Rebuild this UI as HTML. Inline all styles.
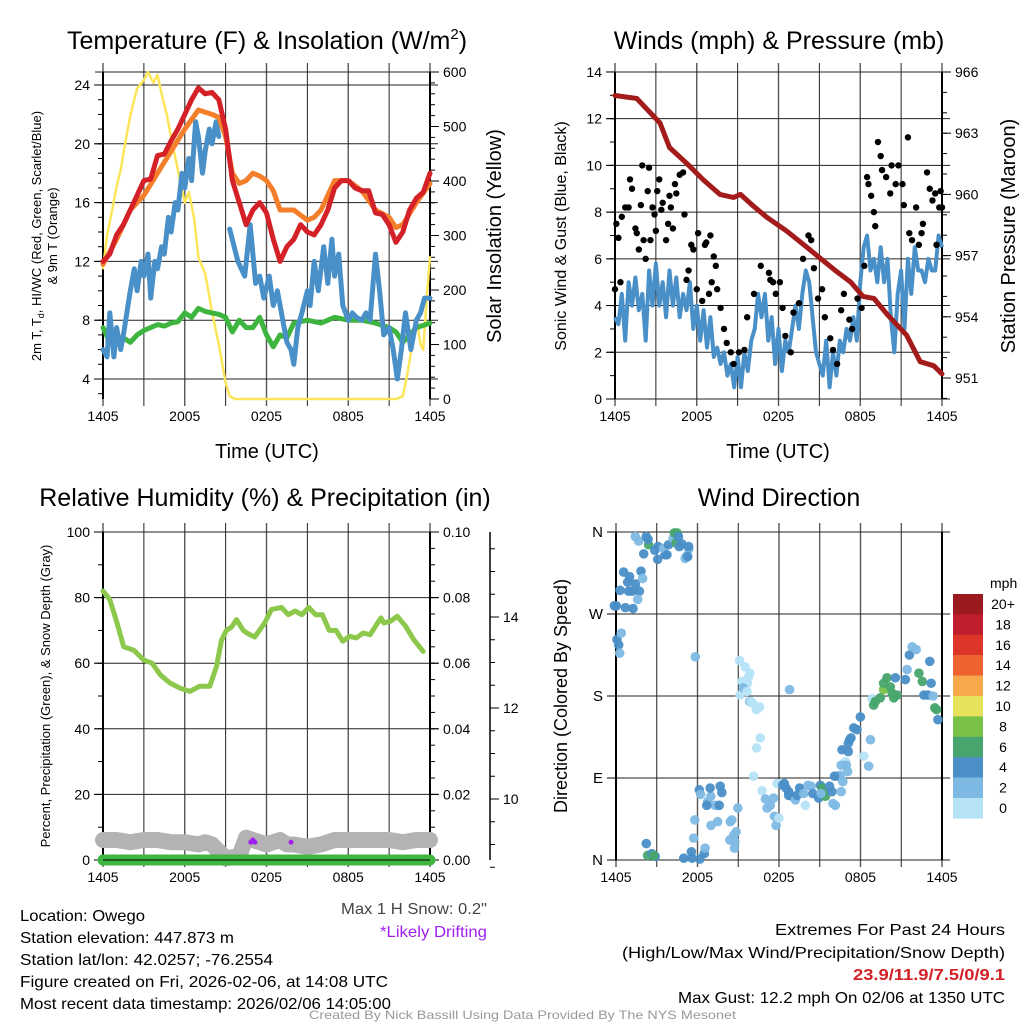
<!DOCTYPE html>
<html><head><meta charset="utf-8"><style>
html,body{margin:0;padding:0;background:#fff;}
svg{display:block;font-family:"Liberation Sans",sans-serif;}
</style></head><body>
<svg id="chart" xmlns="http://www.w3.org/2000/svg" width="1024" height="1024" viewBox="0 0 1024 1024">
<rect width="1024" height="1024" fill="#fff"/>
<g id="g"></g>
<text x="267" y="49" font-size="25" text-anchor="middle">Temperature (F) &amp; Insolation (W/m<tspan font-size="15" dy="-10">2</tspan><tspan dy="10">)</tspan></text>
<text x="779" y="49" font-size="25" text-anchor="middle">Winds (mph) &amp; Pressure (mb)</text>
<text x="265" y="506" font-size="25" text-anchor="middle">Relative Humidity (%) &amp; Precipitation (in)</text>
<text x="779" y="506" font-size="25" text-anchor="middle">Wind Direction</text>
<text x="267" y="458" font-size="20" text-anchor="middle">Time (UTC)</text>
<text x="778" y="458" font-size="20" text-anchor="middle">Time (UTC)</text>
<text transform="translate(41,236) rotate(-90)" font-size="13" text-anchor="middle">2m T, T<tspan font-size="9" dy="3">d</tspan><tspan dy="-3">, HI/WC (Red, Green, Scarlet/Blue)</tspan></text>
<text transform="translate(57,236) rotate(-90)" font-size="13" text-anchor="middle">&amp; 9m T (Orange)</text>
<text transform="translate(501,236) rotate(-90)" font-size="20" text-anchor="middle">Solar Insolation (Yellow)</text>
<text transform="translate(566,236) rotate(-90)" font-size="16" text-anchor="middle">Sonic Wind &amp; Gust (Blue, Black)</text>
<text transform="translate(1015,236) rotate(-90)" font-size="20" text-anchor="middle">Station Pressure (Maroon)</text>
<text transform="translate(50,696) rotate(-90)" font-size="13" text-anchor="middle">Percent, Precipitation (Green), &amp; Snow Depth (Gray)</text>
<text transform="translate(567,696) rotate(-90)" font-size="18" text-anchor="middle">Direction (Colored By Speed)</text>
<text x="990" y="588" font-size="14">mph</text>
<g font-size="16">
<text x="20" y="921" textLength="125" lengthAdjust="spacingAndGlyphs">Location: Owego</text>
<text x="20" y="943" textLength="214" lengthAdjust="spacingAndGlyphs">Station elevation: 447.873 m</text>
<text x="20" y="965" textLength="253" lengthAdjust="spacingAndGlyphs">Station lat/lon: 42.0257; -76.2554</text>
<text x="20" y="987" textLength="368" lengthAdjust="spacingAndGlyphs">Figure created on Fri, 2026-02-06, at 14:08 UTC</text>
<text x="20" y="1009" textLength="371" lengthAdjust="spacingAndGlyphs">Most recent data timestamp: 2026/02/06 14:05:00</text>
<text x="341" y="914" fill="#444" textLength="146" lengthAdjust="spacingAndGlyphs">Max 1 H Snow: 0.2"</text>
<text x="380" y="937" fill="#a020f0" textLength="107" lengthAdjust="spacingAndGlyphs">*Likely Drifting</text>
<text x="775" y="935" textLength="230" lengthAdjust="spacingAndGlyphs">Extremes For Past 24 Hours</text>
<text x="622" y="958" textLength="383" lengthAdjust="spacingAndGlyphs">(High/Low/Max Wind/Precipitation/Snow Depth)</text>
<text x="853" y="980" fill="#d42027" font-weight="bold" textLength="152" lengthAdjust="spacingAndGlyphs">23.9/11.9/7.5/0/9.1</text>
<text x="678" y="1003" textLength="327" lengthAdjust="spacingAndGlyphs">Max Gust: 12.2 mph On 02/06 at 1350 UTC</text>
</g>
<text x="309" y="1019" font-size="12" fill="#999" textLength="427" lengthAdjust="spacingAndGlyphs">Created By Nick Bassill Using Data Provided By The NYS Mesonet</text>
</svg>
<script>
const xTickLabels=["1405","2005","0205","0805","1405"];
// temperature panel
const redT=[0,0.5,1,1.5,2,2.5,3,3.5,4,4.5,5,5.5,6,6.5,7,7.5,8,8.5,9,9.5,10,10.5,11,11.5,12,12.5,13,13.5,14,14.5,15,15.5,16,16.5,17,17.5,18,18.5,19,19.5,20,20.5,21,21.5,22,22.5,23,23.5,24];
const redV=[12,12.5,13.8,14.5,15.5,16.5,17.5,17.6,19.2,19.3,20.2,21,22,23,23.8,23.4,23.5,23,21,17.5,16,14.5,15.5,16,15.3,13.5,12,13,13.5,14.5,14,13.8,14.5,15.5,17,17.5,17.5,17,16.8,16.8,15.3,15.2,14.5,13.3,14,15.5,16.3,16.7,18];
const orangeT=[0,1,2,3,4,5,6,7,8,8.5,9,9.5,10,10.5,11,11.5,12,12.5,13,14,15,15.5,16,16.5,17,18,19,20,21,21.5,22,23,24];
const orangeV=[11.8,13.5,15.5,16.5,18,19.5,21,22.3,22,21.8,20.5,18,17.3,17.5,18,17.8,17.5,16.8,15.5,15.5,14.8,15,15.5,16.5,17.5,17.5,16.8,15.5,15,14.3,14.5,16,17.3];
const blueT=[0,0.3,0.5,0.8,1,1.3,1.5,2,2.3,2.5,2.8,3,3.3,3.5,3.8,4,4.3,4.5,4.8,5,5.3,5.5,5.8,6,6.3,6.5,6.8,7,7.3,7.5,7.8,8,8.3,8.5];
const blueV=[6,5.5,8.5,5.5,7.5,6,7,10,11.5,10,12,11,12.5,9.5,12,11.5,13,12.5,15,14,16,15.5,18,17,19,17.5,21.5,20.5,18,19.5,21,20,21.5,20.5];
const blue2T=[9.3,9.9,10.4,10.8,11.2,11.5,11.8,12.2,12.5,12.8,13.2,13.5,13.8,14,14.3,14.6,15,15.2,15.5,15.8,16.2,16.5,16.8,17,17.3,17.6,18,18.3,18.6,19,19.3,19.6,20,20.3,20.6,21,21.3,21.6,21.9,22.2,22.6,23,23.3,23.6,24];
const blue2V=[14.2,12,11,14.5,10.5,11,9.5,11,9,10,8,6.5,6,5,7.5,8.5,10,9,12,10,13,10.5,13.5,11,12.5,9,8,8.5,8.2,8,8.5,8,12.5,10,7,7.5,6,4,6,8.5,6,8,8.5,9.5,9.5];
const greenT=[0,0.5,1,1.5,2,2.5,3,3.5,4,4.5,5,5.5,6,6.5,7,7.5,8,8.5,9,9.5,10,10.5,11,11.5,12,12.5,13,13.5,14,15,16,17,18,19,20,21,21.5,22,22.5,23,24];
const greenV=[7.5,6.5,6.5,6.8,6.5,7,7.3,7.5,7.7,7.6,7.8,7.9,8.5,8.2,8.8,8.6,8.5,8.4,8.2,7.2,8,7.5,7.5,8.2,7,6.2,7,6.8,7.8,8,7.8,8.2,8,8,7.8,7.5,7.2,6.5,7,7.5,7.8];
const solarT=[0,0.3,0.7,1,1.3,1.7,2,2.5,3,3.3,3.7,4,4.3,4.7,5,5.5,6,6.3,6.7,7,7.5,8,8.5,9,9.3,9.7,21.5,22,22.3,22.7,23,23.3,23.5,23.8,24];
const solarV=[240,300,350,390,420,480,520,570,585,600,580,595,560,520,480,420,360,380,330,260,230,160,100,30,5,0,0,5,40,100,150,100,90,200,260];
// wind panel
const windV=[3.5,3.2,4.5,2.5,5,4,5.2,3.8,4.5,2.5,5.5,4,5.8,4,5,3.5,5.5,4,5.2,3.5,4.5,3.8,5,3,4,2.5,3.8,2.2,3.5,1.8,2.2,1.5,2,1,1.5,0.5,1.8,0.5,2,1.2,2.5,3,4.5,3.5,4.5,2.5,3.5,1.5,3,1.2,2.5,2,3,4,3,4.5,5.5,5,3.5,2,1.5,1,2.5,0.5,2,1,2.5,2,3,2.5,3.5,2.5,5,6.5,7,5.5,6,5,6.5,5,6,3.5,2,4.5,5.5,3,6,4.5,6.5,5.5,5.5,5,6,5.5,5.5,7,6.5];
const gustT=[0,0.1,0.25,0.4,0.5,0.75,1,1.1,1.25,1.5,1.6,1.75,1.9,2,2.1,2.25,2.4,2.5,2.6,2.75,2.9,3,3.1,3.25,3.4,3.5,3.75,3.9,4,4.1,4.25,4.4,4.5,4.75,5,5.1,5.25,5.4,5.6,5.75,6,6.1,6.4,6.6,6.7,6.9,7,7.1,7.25,7.4,7.5,7.75,8,8.2,8.5,8.7,9.1,9.5,9.7,10.2,10.7,11.3,11.4,11.6,11.8,12.1,12.3,12.5,12.9,13.1,13.5,13.8,14.2,14.4,14.6,14.9,15.2,15.4,15.8,16,16.3,16.6,16.8,17.2,17.4,17.8,18.1,18.3,18.5,18.6,18.8,19,19.1,19.3,19.5,19.6,19.9,20.2,20.3,20.6,20.8,21.1,21.2,21.5,21.6,21.8,22.1,22.3,22.5,22.6,22.9,23.1,23.3,23.5,23.6,23.8,23.9,24];
const gustV=[4.7,7.5,6.9,5,7.8,8.2,8.2,9.4,9,7.3,7.1,6.4,8.3,10,6.8,6,8.9,9.9,6.8,8.2,7.9,7.2,8.9,9.4,8.1,8.4,6.8,7.5,8.7,8.2,7.3,9.2,8.8,9.6,9.7,7.9,5.1,5.5,6.6,6.4,4.7,7.1,4.2,6.6,6.7,4.5,7,5,6.1,5.7,4.7,3.9,3,2.4,2,1.5,2,2.1,3.5,4.5,5.7,5.4,5.1,5,4.5,5,3.9,2.7,2,3.7,4.1,6,7,6.8,5.6,4.3,4.7,3.5,2.6,2.1,1.5,3.8,4.5,3.4,3,4.3,3.9,5.7,9.5,9.2,8.7,8,7.4,11,10.4,9.8,9.5,8.8,10,9.2,10,9.2,8.3,11.2,7.1,6.8,8.2,6.6,7.1,7.5,9.7,9,8.5,8.8,6.6,8.2,8.9,8.2,7.2,7.4,8.6,8.7,10.1,12.2];
const presT=[0,1.6,3.3,4,5.3,6.5,7.7,8.7,9.2,10.2,11.1,12.6,14.1,15,16.3,17.3,18.2,19,20,21.4,22.4,23.4,24];
const presV=[964.85,964.7,963.5,962.3,961.5,960.7,960,959.85,960,959.4,958.9,958.2,957.4,956.9,956.2,955.7,955,954.9,954.1,953.1,951.8,951.6,951.2];
// RH panel
const rhT=[0,0.5,1.03,1.52,2.25,2.98,3.6,4.2,4.9,5.65,6.38,7.1,7.84,8.33,8.7,9.06,9.43,9.8,10.3,10.65,11.14,11.87,12.37,13.1,13.6,14.1,14.6,15.1,15.6,16.1,16.6,17.1,17.6,18.1,18.6,19.1,19.6,20.4,20.6,21.1,21.6,22.2,22.8,23.5];
const rhV=[82,79.4,72.3,65,64,61,60,56.5,54,52.4,51.4,53,53,59,67,70,71,73.3,70,69,68,72.3,76.4,77,74.8,75.9,74.8,77,74.8,74.8,70,70,66.7,68.2,67.7,69.2,68.7,73.8,72.3,72.8,74.3,71.3,67.2,63.6];
const precipT=[0,24];
const precipV=[0,0];
const snowT=[0,1,2,3,4,5,6,7,7.5,8,8.5,9,9.5,10,10.5,11,11.5,12,12.5,13,13.5,14,15,16,17,18,19,20,21,22,23,24];
const snowV=[9.1,9.1,9.05,9.1,9.1,9.05,9.05,9.0,9.05,9.0,8.85,8.7,8.72,8.75,9.15,9.1,9.05,9.0,9.05,9.1,9.0,9.0,8.95,9.0,9.1,9.1,9.1,9.1,9.1,9.05,9.1,9.1];
const driftT=[10.85,11.0,11.15,13.8];
const driftV=[9.05,9.1,9.05,9.05];
// direction panel
const dirT=[-0.12,0.02,0.3,0.56,0.86,1.0,0.93,1.18,1.43,1.72,1.6,0.69,1.25,1.84,1.96,2.04,1.42,1.67,2.23,2.4,2.36,2.85,3.07,3.1,3.61,3.5,3.75,3.87,4.21,4.29,4.5,4.42,4.6,4.66,4.85,5.16,5.09,5.35,5.28,5.35,0.07,0.2,0.27,0.39,5.84,2.23,2.33,2.64,2.89,2.77,4.99,5.6,5.55,6.17,5.72,5.8,6.5,6.56,6.13,6.75,6.98,6.23,7.67,6.93,7.79,7.3,7.48,7.6,6.68,6.99,8.97,8.84,8.53,8.41,8.66,8.38,8.72,8.75,9.1,9.5,9.76,9.28,9.67,9.85,9.13,9.36,12.78,9.65,9.84,9.94,10.06,10.33,10.57,10.62,10.35,10.13,11.86,10.75,11.0,11.12,11.36,11.6,11.66,11.78,12.0,12.27,12.39,12.52,12.71,12.71,12.96,13.21,13.33,13.52,13.82,13.94,14.13,14.37,14.49,14.92,15.05,15.17,15.29,15.42,15.72,15.9,15.97,16.15,16.33,16.52,16.58,16.7,16.9,17.05,17.1,17.2,16.96,17.1,15.09,16.09,16.58,16.64,17.3,17.5,17.74,17.99,18.24,18.6,18.73,18.85,18.97,19.09,19.46,19.7,19.7,19.95,20.2,20.33,20.45,20.69,20.57,21.3,21.43,21.6,21.8,22.1,22.3,22.55,22.67,22.97,23.1,23.2,23.35,23.47,23.6,23.7];
const dirV=[279,279,296,316,305,311,295,295,303,295,286,277,276,317,309,336,355,350,355,346,352,340,330,344,335,342,335,346,353,359,359,348,355,344,347,333,331,341,333,344,242,236,227,249,223,18,5,7,4,5,2,2,9,1,24,44,7,13,77,64,70,72,81,79,74,60,42,60,60,38,57,31,44,42,27,22,13,20,219,212,201,196,194,205,181,189,187,185,174,174,172,165,168,134,123,92,84,76,67,57,60,68,48,38,46,82,84,79,75,71,70,66,71,79,73,60,82,81,73,68,82,79,75,70,81,75,62,60,92,93,75,86,108,97,128,132,104,119,73,92,104,121,134,145,143,157,114,103,132,177,170,174,178,187,194,200,190,183,178,181,200,198,209,225,234,231,205,196,181,181,218,194,180,167,165,154,141,150,157,165,165,173,190,185,181,174,167];
const dirS=[5,5,5,5,5,5,5,5,5,5,3,5,5,5,3,5,3,3,5,7,5,5,5,5,5,3,5,5,3,7,7,7,5,5,5,3,3,3,5,5,5,5,3,3,3,5,7,5,5,7,5,5,5,5,3,3,5,3,5,3,3,3,5,5,5,3,3,5,5,3,3,3,3,3,3,3,3,3,1,1,1,1,1,1,1,3,3,1,3,1,1,1,1,1,1,1,1,1,3,3,3,3,3,3,1,5,5,5,5,5,5,3,5,5,3,1,3,3,5,5,5,7,7,7,5,5,3,3,5,3,3,3,1,3,5,5,3,5,3,5,3,5,5,5,5,5,1,3,3,1,7,7,7,9,7,7,7,7,7,7,5,5,3,5,3,3,7,7,5,5,5,5,3,7,7,5,5,7,7,7,5,5,7,7,7];
const cbarLabels=["20+","18","16","14","12","10","8","6","4","2","0"];
const cbarColors=["#9a1a1d","#bf1e2d","#dd3529","#ee6231","#f6a84a","#e7e25b","#7ac14a","#47a56d","#4a8fc7","#7eb9e4","#b6e3f8"];

const NS="http://www.w3.org/2000/svg";
const G=document.getElementById('g');
function mk(tag,attrs,parent){const e=document.createElementNS(NS,tag);for(const k in attrs)e.setAttribute(k,attrs[k]);(parent||G).appendChild(e);return e;}
function panelX(x0,x1){return t=>x0+t/24*(x1-x0);}
function pathD(ts,vs,X,Y){return ts.map((t,i)=>(i?'L':'M')+X(t).toFixed(1)+','+Y(vs[i]).toFixed(1)).join('');}

function frame(name,x0,x1,y0,y1,hLines){
  const g=mk('g',{});
  
  
  for(let k=0;k<=8;k++){const x=x0+k*(x1-x0)/8;
    const l=mk('line',{x1:x,x2:x,y1:y0-9,y2:y1+7,stroke:(k%2?'#222':'#555'),'stroke-width':(k%2?1:1.4)},g);
    }
  hLines.forEach(y=>{const l=mk('line',{x1:x0-8,x2:x1+8,y1:y,y2:y,stroke:'#222','stroke-width':1},g);
    });
  mk('line',{x1:x0,x2:x0,y1:y0,y2:y1,stroke:'#000','stroke-width':2},g);
  mk('line',{x1:x1,x2:x1,y1:y0,y2:y1,stroke:'#000','stroke-width':2},g);
  xTickLabels.forEach((s,i)=>{const tx=mk('text',{x:x0+i*(x1-x0)/4,y:y1+22,'font-size':14,'text-anchor':'middle'},g);tx.textContent=s;
    });
}
function yTicks(x,side,vals,Y,labels,minor,size){
  const g=mk('g',{});
  
  
  minor.forEach(v=>mk('line',{x1:x,x2:x+side*5,y1:Y(v),y2:Y(v),stroke:'#000','stroke-width':1},g));
  vals.forEach((v,i)=>{mk('line',{x1:x,x2:x+side*9,y1:Y(v),y2:Y(v),stroke:'#000','stroke-width':1},g);
    const t=mk('text',{x:x+side*13,y:Y(v)+5,'font-size':size||14,'text-anchor':side<0?'end':'start'},g);t.textContent=labels[i];
    });
}
function range(a,b,s){const r=[];for(let v=a;v<=b+1e-9;v+=s)r.push(+v.toFixed(4));return r;}

// ---- Temperature panel
{
  const X=panelX(103,430), YT=v=>379-(v-4)*14.7, YI=v=>399-v*327/600;
  const maj=[4,8,12,16,20,24];
  frame('temp',103,430,72,399,[72].concat(maj.map(YT)));
  yTicks(103,-1,maj,YT,maj.map(String),range(3,24,1));
  yTicks(430,1,[0,100,200,300,400,500,600],YI,["0","100","200","300","400","500","600"],range(0,600,20));
  const s=[[solarT,solarV,YI,'#fde55a',2.5,'solar-line'],[greenT,greenV,YT,'#3db53f',5,'dewpoint-line'],[blueT,blueV,YT,'#4a90c8',5,'windchill-line'],[blue2T,blue2V,YT,'#4a90c8',5,'windchill-line-2'],[orangeT,orangeV,YT,'#f47f2b',5,'temp-9m-line'],[redT,redV,YT,'#d42027',5,'temp-2m-line']];
  s.forEach(([ts,vs,Y,c,w,n])=>{const p=mk('path',{d:pathD(ts,vs,X,Y),fill:'none',stroke:c,'stroke-width':w,'stroke-linejoin':'round','stroke-linecap':'round'});
    });
}
// ---- Wind panel
{
  const X=panelX(615,942), YW=v=>399-v*23.36, YP=p=>378-(p-951)*20.4;
  const maj=[0,2,4,6,8,10,12,14];
  frame('wind',615,942,72,399,maj.map(YW));
  yTicks(615,-1,maj,YW,maj.map(String),range(0,14,1));
  yTicks(942,1,[951,954,957,960,963,966],YP,["951","954","957","960","963","966"],range(950,966,1));
  const wt=windV.map((v,i)=>i*0.25);
  const p=mk('path',{d:pathD(wt,windV,X,YW),fill:'none',stroke:'#4a90c8','stroke-width':4,'stroke-linejoin':'round'});
  
  gustT.forEach((t,i)=>{const c=mk('circle',{cx:X(t),cy:YW(gustV[i]),r:3.2,fill:'#000'});
    });
  const q=mk('path',{d:pathD(presT,presV,X,YP),fill:'none',stroke:'#a31b1b','stroke-width':5,'stroke-linejoin':'round','stroke-linecap':'round'});
  
}
// ---- RH panel
{
  const X=panelX(103,430), YR=v=>860-v*3.28, YPr=v=>860-v*3280, YS=s=>799-(s-10)*45.5;
  const maj=[0,20,40,60,80,100];
  frame('rh',103,430,532,860,maj.map(YR));
  yTicks(103,-1,maj,YR,maj.map(String),range(0,100,10));
  yTicks(430,1,[0,0.02,0.04,0.06,0.08,0.1],YPr,["0.00","0.02","0.04","0.06","0.08","0.10"],range(0,0.1,0.005));
  mk('line',{x1:490,x2:490,y1:532,y2:860,stroke:'#000','stroke-width':1.5});
  yTicks(490,1,[10,12,14],YS,["10","12","14"],range(8.7,15.9,0.5).map(v=>Math.round(v*2)/2));
  const sp=mk('path',{d:pathD(snowT,snowV,X,YS),fill:'none',stroke:'#b3b3b3','stroke-width':16,'stroke-linejoin':'round','stroke-linecap':'round'});
  
  const pp=mk('path',{d:pathD(precipT,precipV,X,YPr),fill:'none',stroke:'#3db53f','stroke-width':11,'stroke-linecap':'round'});
  
  mk('line',{x1:103,x2:430,y1:860,y2:860,stroke:'#000','stroke-width':1});
  driftT.forEach((t,i)=>{const c=mk('circle',{cx:X(t),cy:YS(driftV[i]),r:2.5,fill:'#a020f0'});
    });
  const rp=mk('path',{d:pathD(rhT,rhV,X,YR),fill:'none',stroke:'#8cc84b','stroke-width':5,'stroke-linejoin':'round','stroke-linecap':'round'});
  
}
// ---- Direction panel
{
  const X=panelX(616,942), YD=d=>860-d*328/360;
  frame('dir',616,942,532,860,[0,90,180,270,360].map(YD));
  yTicks(616,-1,[0,90,180,270,360],YD,["N","E","S","W","N"],[],15);
  function col(s){const i=Math.min(10,Math.floor(s/2));return cbarColors[10-i];}
  dirT.forEach((t,i)=>{const c=mk('circle',{cx:X(t),cy:YD(dirV[i]),r:4.8,fill:col(dirS[i]),'fill-opacity':0.95});
    });
  cbarColors.forEach((c,i)=>{const r=mk('rect',{x:953,y:594+i*20.4,width:30,height:20.6,fill:c});
    
    const t=mk('text',{x:1003,y:594+i*20.4+15,'font-size':14,'text-anchor':'middle'});t.textContent=cbarLabels[i];
    });
}
</script>
</body></html>
